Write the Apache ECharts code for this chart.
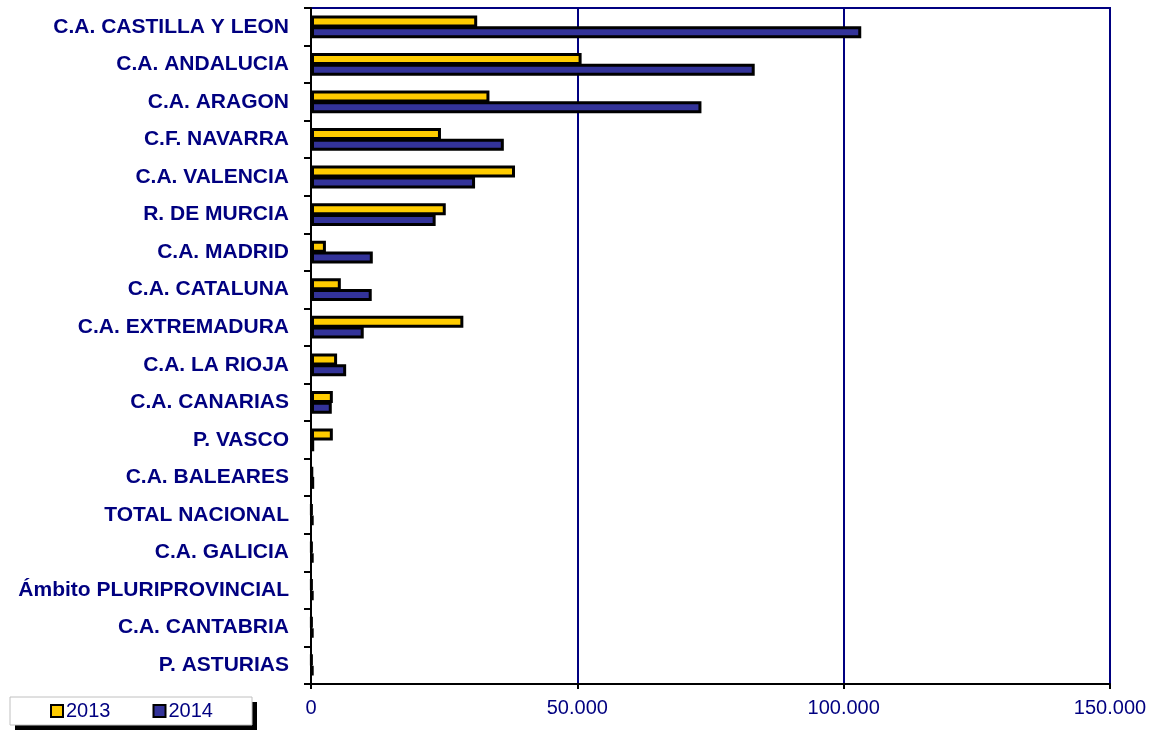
<!DOCTYPE html>
<html>
<head>
<meta charset="utf-8">
<script src="https://cdn.jsdelivr.net/npm/echarts@6/dist/echarts.min.js"></script>
<style>html,body{margin:0;padding:0;background:#fff;}#c{width:1159px;height:731px;}</style>
</head>
<body>
<div id="c"></div>
<script>
const categories = ["C.A. CASTILLA Y LEON","C.A. ANDALUCIA","C.A. ARAGON","C.F. NAVARRA","C.A. VALENCIA","R. DE MURCIA","C.A. MADRID","C.A. CATALUNA","C.A. EXTREMADURA","C.A. LA RIOJA","C.A. CANARIAS","P. VASCO","C.A. BALEARES","TOTAL NACIONAL","C.A. GALICIA","Ámbito PLURIPROVINCIAL","C.A. CANTABRIA","P. ASTURIAS"];
const values2013 = [31200,50800,33500,24400,38300,25300,2800,5600,28600,4900,4100,4100,300,150,150,150,150,150];
const values2014 = [103300,83300,73300,36200,30800,23400,11600,11400,9900,6600,3900,600,600,450,450,450,450,450];
const xTicks = [0,50000,100000,150000];
const seriesNames = ["2013","2014"];

const navy = '#000080';
const chart = echarts.init(document.getElementById('c'));
chart.setOption({
  animation:false,
  backgroundColor:'#ffffff',
  grid:{left:311,right:49,top:8,bottom:47,show:true,borderColor:navy,borderWidth:2,backgroundColor:'transparent'},
  graphic:[
    {type:'rect',z:0,shape:{x:15,y:702,width:242,height:28},style:{fill:'#000'}},
    {type:'rect',z:1,shape:{x:10,y:697,width:242,height:28},style:{fill:'#fff',stroke:'#c0c0c0',lineWidth:1}}
  ],
  legend:{
    data:seriesNames,
    left:10, top:697, z:5,
    orient:'horizontal',
    itemWidth:12,itemHeight:12,itemGap:42,
    padding:[4,37,4,40],
    textStyle:{color:navy,fontFamily:'Liberation Sans, Arial, sans-serif',fontSize:20,padding:[0,0,0,-2]},
    icon:'rect',
    itemStyle:{borderColor:'#000',borderWidth:2}
  },
  xAxis:{
    type:'value',min:xTicks[0],max:xTicks[xTicks.length-1],interval:50000,
    axisLine:{show:true,onZero:false,lineStyle:{color:'#000',width:2}},
    axisTick:{show:true,length:5,lineStyle:{color:'#000',width:2}},
    axisLabel:{color:navy,fontFamily:'Liberation Sans, Arial, sans-serif',fontSize:20,margin:14,
      formatter:v=>v===0?'0':(v/1000).toFixed(0)+'.000'},
    splitLine:{show:true,lineStyle:{color:navy,width:2}}
  },
  yAxis:{
    type:'category',data:categories,inverse:true,
    axisLine:{show:true,lineStyle:{color:'#000',width:2}},
    axisTick:{show:true,length:7,alignWithLabel:false,lineStyle:{color:'#000',width:2}},
    axisLabel:{color:navy,fontFamily:'Liberation Sans, Arial, sans-serif',fontWeight:'bold',fontSize:21,margin:22},
    splitLine:{show:false}
  },
  series:[
    {name:seriesNames[0],type:'bar',data:values2013,barWidth:12,barGap:'-10%',
      itemStyle:{color:'#FFCC00',borderColor:'#000',borderWidth:3}},
    {name:seriesNames[1],type:'bar',data:values2014,barWidth:12,barGap:'-10%',
      itemStyle:{color:'#333399',borderColor:'#000',borderWidth:3}}
  ]
});
</script>
</body>
</html>
